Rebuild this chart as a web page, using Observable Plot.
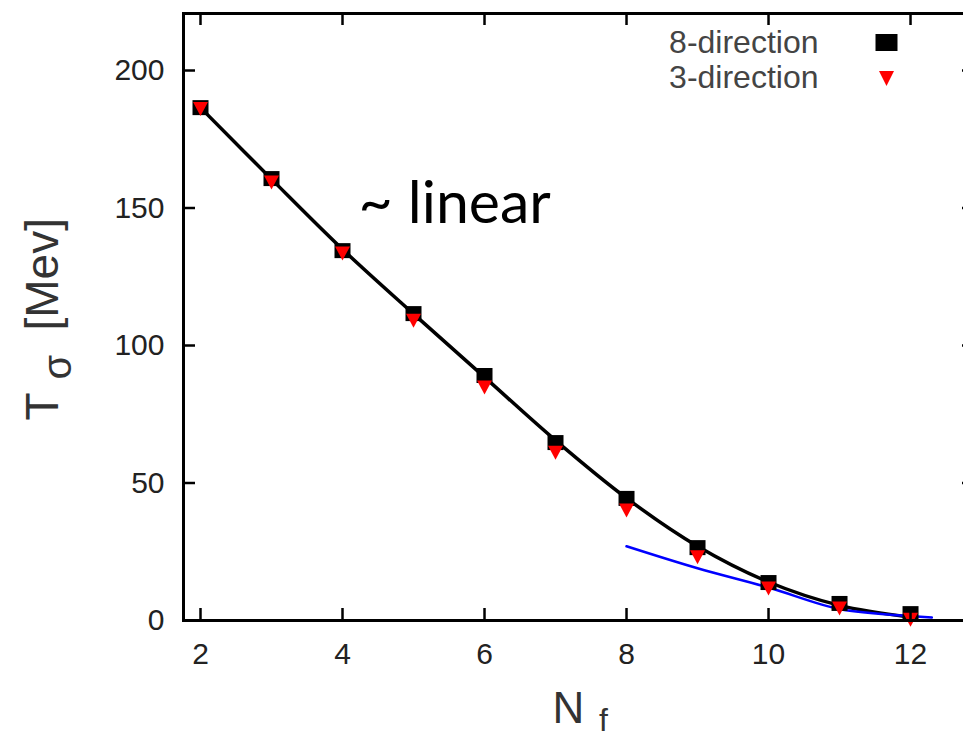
<!DOCTYPE html>
<html>
<head>
<meta charset="utf-8">
<script src="https://cdn.jsdelivr.net/npm/d3@7"></script>
<script src="https://cdn.jsdelivr.net/npm/@observablehq/plot@0.6"></script>
<style>
  html, body { margin: 0; padding: 0; background: #fff; }
  #chart { width: 963px; height: 740px; overflow: hidden; }
</style>
</head>
<body>
<div id="chart"></div>
<script>
// ---- data ----
const nf = [2, 3, 4, 5, 6, 7, 8, 9, 10, 11, 12];
const t8dir = [186.5, 160.7, 134.5, 111.6, 89.1, 64.7, 44.4, 26.5, 13.8, 6.2, 2.5];
const t3dir = [186, 159.3, 133.5, 109, 84.7, 61, 40, 23, 11.6, 4.4, 0.3];
// black fit curve
const fitN = [2, 3, 4, 5, 6, 7, 8, 9, 10, 11, 12];
const fitT = [186.5, 160.5, 135, 111.5, 88.5, 65.5, 44.5, 27, 14, 5.5, 1.2];
// blue curve (small-mass region)
const blueN = [8, 9, 10, 11, 12, 12.3];
const blueT = [27, 19, 12, 4.2, 1.6, 1.1];
// ticks
const xTicks = [2, 4, 6, 8, 10, 12];
const yTicks = [0, 50, 100, 150, 200];
const seriesNames = ["8-direction", "3-direction"];
const annotation = "~ linear";

// ---- derived tables ----
const pts8 = nf.map((n, i) => ({n, t: t8dir[i]}));
const pts3 = nf.map((n, i) => ({n, t: t3dir[i]}));
const fit = fitN.map((n, i) => ({n, t: fitT[i]}));
const blue = blueN.map((n, i) => ({n, t: blueT[i]}));

// custom symbols (fixed pixel sizes)
const rectSym = (w, h) => ({draw(ctx) { ctx.moveTo(-w/2, -h/2); ctx.lineTo(w/2, -h/2); ctx.lineTo(w/2, h/2); ctx.lineTo(-w/2, h/2); ctx.closePath(); }});
const triDown = (w, h) => ({draw(ctx) { ctx.moveTo(-w/2, -h/2); ctx.lineTo(w/2, -h/2); ctx.lineTo(0, h/2); ctx.closePath(); }});

const W = 963, H = 740;
const mL = 183, mT = 13, mB = 120, mR = -11;
const frameW = W - mR - mL, frameH = H - mB - mT;
const tickLen = 12;
const sans = "Liberation Sans, Arial, sans-serif";

const chart = Plot.plot({
  width: W,
  height: H,
  marginLeft: mL,
  marginTop: mT,
  marginBottom: mB,
  marginRight: mR,
  style: {fontFamily: sans, background: "#fff", overflow: "visible"},
  x: {domain: [1.7606, 12.901], axis: null},
  y: {domain: [0, 220.73], axis: null},
  marks: [
    // curves
    Plot.line(fit, {x: "n", y: "t", stroke: "black", strokeWidth: 3.5, curve: "catmull-rom"}),
    Plot.line(blue, {x: "n", y: "t", stroke: "#0000ff", strokeWidth: 2.5, curve: "catmull-rom"}),
    // markers
    Plot.dot(pts8, {x: "n", y: "t", symbol: rectSym(16, 15), r: 5, fill: "black", stroke: null}),
    Plot.dot(pts3, {x: "n", y: "t", symbol: triDown(15, 14), r: 5, fill: "#ff0000", stroke: null}),
    // frame
    Plot.frame({stroke: "black", strokeWidth: 3}),
    // inward ticks (gnuplot style, mirrored)
    Plot.tickX(xTicks, {x: d => d, insetTop: frameH - tickLen, stroke: "black", strokeWidth: 2.5}),
    Plot.tickX(xTicks, {x: d => d, insetBottom: frameH - tickLen, stroke: "black", strokeWidth: 2.5}),
    Plot.tickY(yTicks, {y: d => d, insetRight: frameW - tickLen, stroke: "black", strokeWidth: 2.5}),
    Plot.tickY(yTicks, {y: d => d, insetLeft: frameW - tickLen, stroke: "black", strokeWidth: 2.5}),
    // tick labels
    Plot.text(xTicks, {x: d => d, text: d => String(d), frameAnchor: "bottom", lineAnchor: "top", dy: 22, fontSize: 30, fill: "#222"}),
    Plot.text(yTicks, {y: d => d, text: d => String(d), frameAnchor: "left", textAnchor: "end", lineAnchor: "middle", dx: -19, fontSize: 30, fill: "#222"}),
    // axis titles
    Plot.text(["N"], {text: d => d, frameAnchor: "bottom-left", dx: 385, dy: 102, textAnchor: "middle", lineAnchor: "bottom", fontSize: 44, fill: "#333"}),
    Plot.text(["f"], {text: d => d, frameAnchor: "bottom-left", dx: 420, dy: 110, textAnchor: "middle", lineAnchor: "bottom", fontSize: 32, fill: "#333"}),
    Plot.text(["T"], {text: d => d, frameAnchor: "top-left", rotate: -90, dx: -126, dy: 407, textAnchor: "start", lineAnchor: "bottom", fontSize: 46, fill: "#333"}),
    Plot.text(["σ"], {text: d => d, frameAnchor: "top-left", rotate: -90, dx: -113, dy: 366, textAnchor: "start", lineAnchor: "bottom", fontSize: 40, fill: "#333"}),
    Plot.text(["[Mev]"], {text: d => d, frameAnchor: "top-left", rotate: -90, dx: -126, dy: 317, textAnchor: "start", lineAnchor: "bottom", fontSize: 46, fill: "#333"}),
    // legend
    Plot.text([seriesNames[0]], {text: d => d, frameAnchor: "top-left", dx: 635, dy: 29, textAnchor: "end", lineAnchor: "middle", fontSize: 32, fill: "#444"}),
    Plot.text([seriesNames[1]], {text: d => d, frameAnchor: "top-left", dx: 635, dy: 64, textAnchor: "end", lineAnchor: "middle", fontSize: 32, fill: "#444"}),
    Plot.dot([0], {frameAnchor: "top-left", dx: 703, dy: 29, symbol: rectSym(22, 17), r: 5, fill: "black", stroke: null}),
    Plot.dot([0], {frameAnchor: "top-left", dx: 703, dy: 65, symbol: triDown(15, 15), r: 5, fill: "#ff0000", stroke: null}),
    // annotation
    Plot.text([annotation], {text: d => d, frameAnchor: "top-left", dx: 175, dy: 209, textAnchor: "start", lineAnchor: "bottom", fontSize: 59, fontFamily: "Lato, sans-serif", fill: "black"})
  ]
});
document.getElementById("chart").appendChild(chart);
</script>
</body>
</html>
